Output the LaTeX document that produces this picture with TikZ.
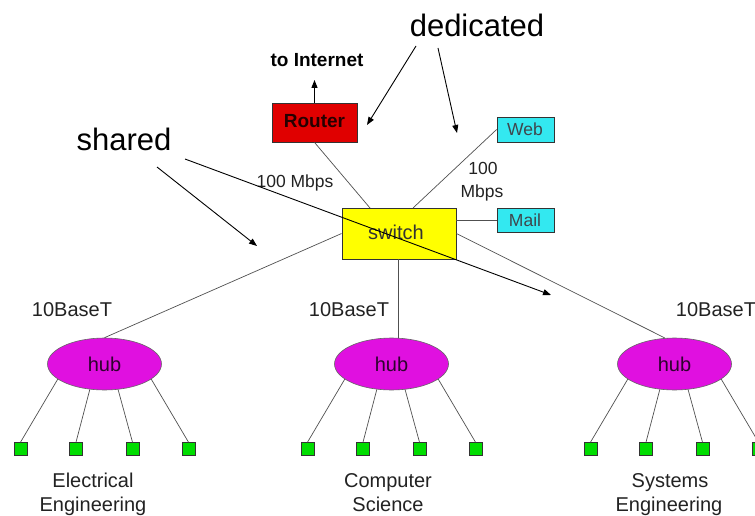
\documentclass[tikz,border=0pt]{standalone}
\usepackage{fontspec}
\setmainfont{Liberation Sans}
\usetikzlibrary{shapes.geometric,arrows.meta}
\definecolor{routerred}{HTML}{E00000}
\definecolor{srvcyan}{HTML}{33E8F0}
\definecolor{swyellow}{HTML}{FFFF00}
\definecolor{hubmag}{HTML}{E010E0}
\definecolor{hostgreen}{HTML}{00DD00}
\definecolor{wire}{HTML}{505050}
\definecolor{txt}{HTML}{222222}
\tikzset{
  box/.style={draw=black!80, line width=0.8pt, inner sep=0pt},
  hubnode/.style={ellipse, draw=black!60, fill=hubmag, line width=0.6pt, minimum width=114pt, minimum height=52pt, inner sep=0pt, text=black!80!hubmag, font=\fontsize{20}{24}\selectfont},
  host/.style={draw=black!80, fill=hostgreen, minimum width=13pt, minimum height=13pt, inner sep=0pt, line width=0.6pt},
  wireline/.style={draw=wire, line width=0.7pt},
  annot/.style={draw=black, line width=0.9pt, -{Triangle[length=8pt,width=6pt]}},
  lbl/.style={anchor=base, text=txt, font=\fontsize{20}{24}\selectfont},
  smlbl/.style={anchor=base, text=txt, font=\fontsize{17.5}{22}\selectfont},
  big/.style={anchor=base, text=black, font=\fontsize{31}{36}\selectfont}
}
\begin{document}
\begin{tikzpicture}[x=1pt,y=-1pt]
\useasboundingbox (0,0) rectangle (755,516);
% main devices
\node[box, fill=routerred, minimum width=85pt, minimum height=39pt] (router) at (314.5,122.5) {};
\node[anchor=base, font=\bfseries\fontsize{19}{22}\selectfont, text=black!85!red] (routertxt) at (314.5,128) {Router};
\node[box, fill=srvcyan, minimum width=57pt, minimum height=25pt] (web) at (525.5,129.5) {};
\node[smlbl, text=black!80!cyan] (webtxt) at (525,135.5) {Web};
\node[box, fill=srvcyan, minimum width=57pt, minimum height=24pt] (mail) at (525.5,220) {};
\node[smlbl, text=black!80!cyan] (mailtxt) at (525,226) {Mail};
\node[box, fill=swyellow, minimum width=114pt, minimum height=51pt] (sw) at (399,233.5) {};
\node[lbl, text=black!80] (swtxt) at (396,239) {switch};
% internet
\coordinate (inet) at (314.5,80);
\node[anchor=base, font=\bfseries\fontsize{19}{22}\selectfont] (inettxt) at (317,67) {to Internet};
\draw[line width=1.1pt, -{Triangle[length=8pt,width=6pt]}] (router.north) -- (inet);
% hubs
\node[hubnode] (hub1) at (104.5,364) {hub};
\node[hubnode] (hub2) at (391.5,364) {hub};
\node[hubnode] (hub3) at (674.5,364) {hub};
% hosts
\foreach \h/\cx in {1/104.5,2/391.5,3/674.5}{
  \node[host] (s\h a) at (\cx-84,449) {};
  \node[host] (s\h b) at (\cx-28.5,449) {};
  \node[host] (s\h c) at (\cx+28,449) {};
  \node[host] (s\h d) at (\cx+84,449) {};
  \draw[wireline] (hub\h.198) -- (s\h a.north);
  \draw[wireline] (hub\h.240) -- (s\h b.north);
  \draw[wireline] (hub\h.298) -- (s\h c.north);
  \draw[wireline] (hub\h.342) -- (s\h d.north);
}
% wires
\coordinate (swtopL) at (370,208);
\coordinate (swtopR) at (413,208);
\draw[wireline] (router.south) -- (swtopL);
\draw[wireline] (web.west) -- (swtopR);
\draw[wireline] (mail.west) -- (mail.west -| sw.east);
\draw[wireline] (sw.west) -- (hub1.north);
\draw[wireline] (sw.south -| hub2.north) ++(6.5,0) coordinate (swb) (swb) -- (swb |- hub2.north);
\draw[wireline] (sw.east) -- (hub3.110);
% labels
\node[smlbl] (l100a) at (295,187) {100 Mbps};
\node[smlbl] (l100b) at (483,175) {100};
\node[smlbl] (l100c) at (482,197) {Mbps};
\node[lbl] (bt1) at (72,316) {10BaseT};
\node[lbl] (bt2) at (349,316) {10BaseT};
\node[lbl] (bt3) at (716,316) {10BaseT};
\node[lbl] (d1a) at (93,487) {Electrical};
\node[lbl] (d1b) at (93,511) {Engineering};
\node[lbl] (d2a) at (388,487) {Computer};
\node[lbl] (d2b) at (388,511) {Science};
\node[lbl] (d3a) at (670,487) {Systems};
\node[lbl] (d3b) at (669,511) {Engineering};
% annotations
\node[big] (ded) at (477,37) {dedicated};
\node[big] (shr) at (124,150) {shared};
\coordinate (dA1) at (416,46);
\coordinate (dA2) at (367,125);
\coordinate (dB1) at (438,48);
\coordinate (dB2) at (457,133);
\coordinate (sA1) at (157,167);
\coordinate (sA2) at (257,246);
\coordinate (sB1) at (185,159);
\coordinate (sB2) at (551,295);
\draw[annot] (dA1) -- (dA2);
\draw[annot] (dB1) -- (dB2);
\draw[annot] (sA1) -- (sA2);
\draw[annot] (sB1) -- (sB2);
\end{tikzpicture}
\end{document}
